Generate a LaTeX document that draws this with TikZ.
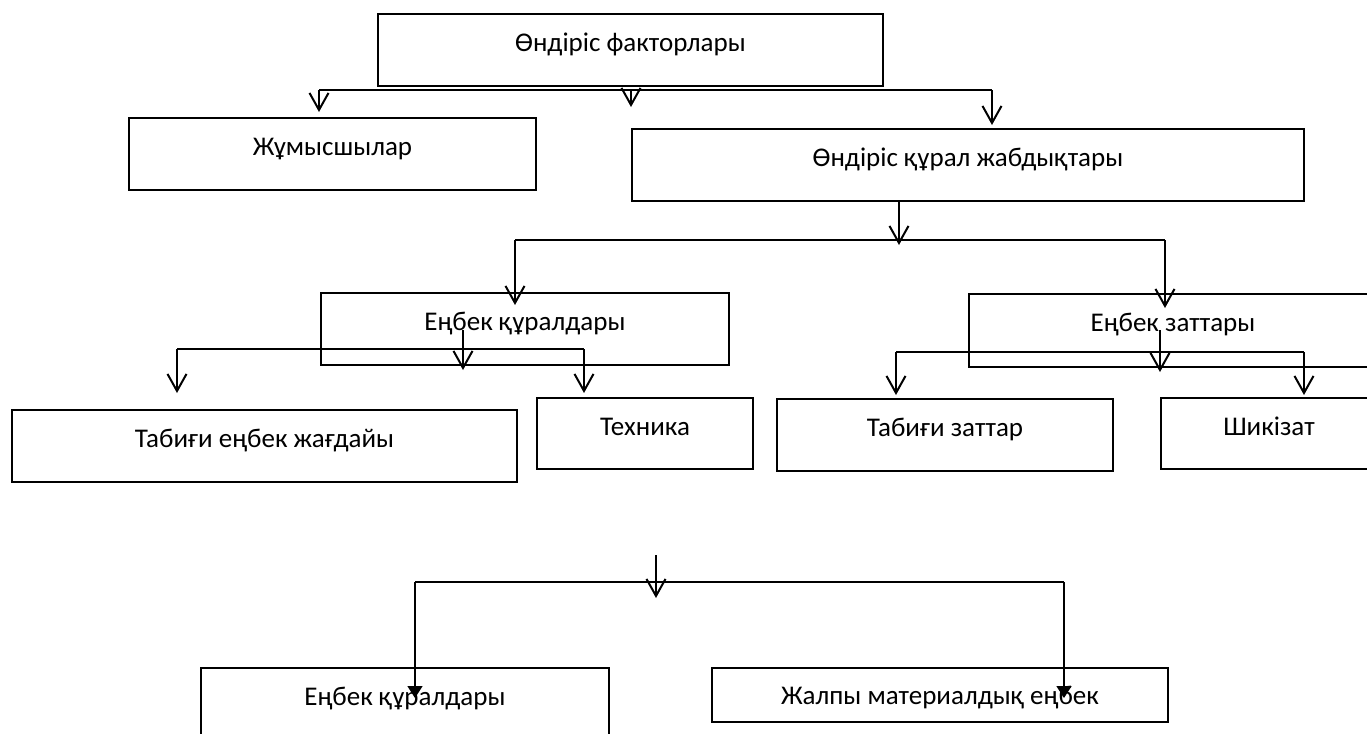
\documentclass[tikz,border=0pt]{standalone}
\usepackage{fontspec}
\setmainfont{Carlito}
\usetikzlibrary{arrows.meta}

\begin{document}
\begin{tikzpicture}[x=0.5pt,y=-0.5pt,line width=1pt,
  blok/.style={draw, inner sep=0pt, anchor=north west,
    text height=18.5pt, text depth=17.5pt, font=\fontsize{13.5pt}{16pt}\selectfont},
  arr/.style={-{Straight Barb[length=8.5pt,width=9.5pt]}},
  farr/.style={line width=0.8pt, -{Triangle[length=6pt,width=7.5pt]}}]
\useasboundingbox (0,0) rectangle (1367,734);
\clip (0,0) rectangle (1367,734);

\node[blok, minimum width=252.5pt] (fakt) at (377,13) {Өндіріс факторлары};
\node[blok, minimum width=203.5pt] (zhum) at (128,117) {Жұмысшылар};
\node[blok, minimum width=336pt] (kural) at (631,128) {Өндіріс құрал жабдықтары};
\node[blok, minimum width=204pt] (enbkur) at (320,292) {Еңбек құралдары};
\node[blok, minimum width=204pt, text depth=18pt] (enbzat) at (968,293) {Еңбек заттары};
\node[blok, minimum width=252.5pt] (tabeng) at (11,409) {Табиғи еңбек жағдайы};
\node[blok, minimum width=108pt, text depth=17pt] (tehn) at (536,397) {Техника};
\node[blok, minimum width=168pt] (tabzat) at (776,398) {Табиғи заттар};
\node[blok, minimum width=108pt, text depth=17pt] (shik) at (1160,397) {Шикізат};
\node[blok, minimum width=204pt] (enbkur2) at (200,667) {Еңбек құралдары};
\node[blok, minimum width=228pt, text height=18pt, text depth=9pt] (zhalpy) at (711,667) {Жалпы материалдық еңбек};

% first level
\coordinate (f1) at (319,90);
\coordinate (f2) at (631,90);
\coordinate (f3) at (992,90);
\coordinate (f2end) at (631,107);
\draw (f1) -- (f3);
\draw[arr, shorten >=2.5pt] (f1) -- (f1 |- zhum.north);
\draw[arr] (f2) -- (f2end);
\draw[arr, shorten >=1.5pt] (f3) -- (f3 |- kural.north);

% second level
\coordinate (k0) at (899,240);
\coordinate (k1) at (515,240);
\coordinate (k2) at (1165,240);
\draw[arr, shorten >=-2.5pt] (k0 |- kural.south) -- (k0);
\draw (k1) -- (k2);
\draw[arr, shorten >=-6.5pt] (k1) -- (k1 |- enbkur.north);
\draw[arr, shorten >=-7.5pt] (k2) -- (k2 |- enbzat.north);

% inside enbkur
\coordinate (e0) at (463,330);
\coordinate (e1) at (177,349);
\coordinate (e2) at (584,349);
\draw[arr, shorten >=-2pt] (e0) -- (e0 |- enbkur.south);
\draw (e1) -- (e2);
\draw[arr, shorten >=8pt] (e1) -- (e1 |- tabeng.north);
\draw[arr, shorten >=2pt] (e2) -- (e2 |- tehn.north);

% inside enbzat
\coordinate (z0) at (1160,330);
\coordinate (z1) at (896,352);
\coordinate (z2) at (1304,352);
\draw[arr, shorten >=-2pt] (z0) -- (z0 |- enbzat.south);
\draw (z1) -- (z2);
\draw[arr, shorten >=1.5pt] (z1) -- (z1 |- tabzat.north);
\draw[arr, shorten >=1pt] (z2) -- (z2 |- shik.north);

% lower group
\coordinate (b0) at (656,555);
\coordinate (b0end) at (656,598);
\coordinate (b1) at (415,582);
\coordinate (b2) at (1064,582);
\draw[arr] (b0) -- (b0end);
\draw (b1) -- (b2);
\draw[farr, shorten >=-15.5pt] (b1) -- (b1 |- enbkur2.north);
\draw[farr, shorten >=-15.5pt] (b2) -- (b2 |- zhalpy.north);
\end{tikzpicture}
\end{document}
